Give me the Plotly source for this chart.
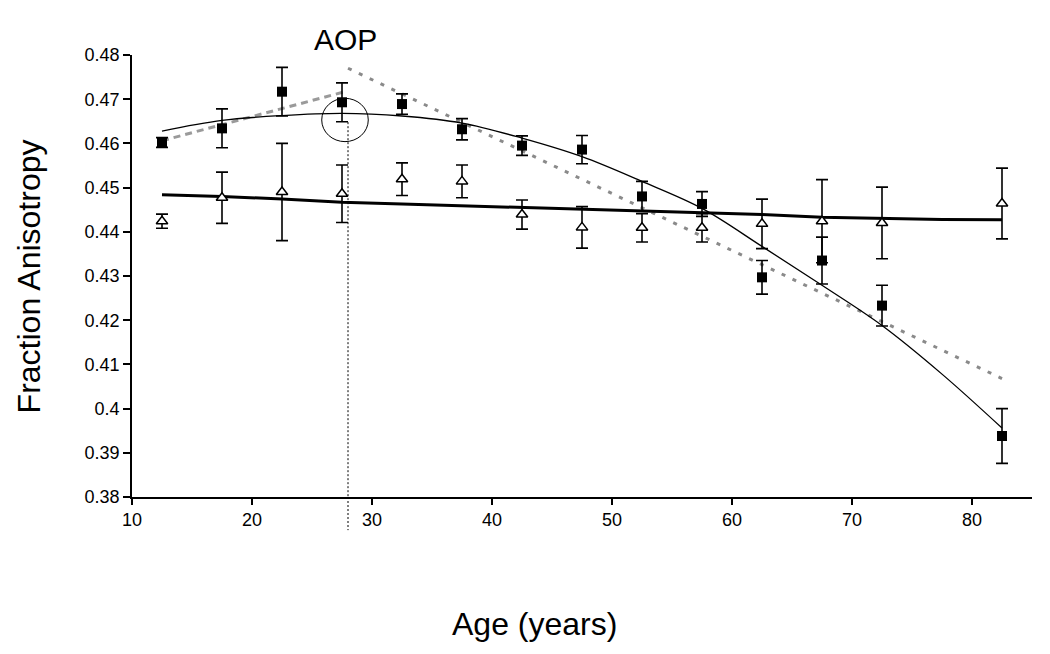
import plotly.graph_objects as go

# ---- data ----
age = [12.5, 17.5, 22.5, 27.5, 32.5, 37.5, 42.5, 47.5, 52.5, 57.5, 62.5, 67.5, 72.5, 82.5]

sq_fa = [0.4602, 0.4634, 0.4717, 0.4693, 0.4689, 0.4632, 0.4595, 0.4586, 0.4480, 0.4463, 0.4297, 0.4335, 0.4233, 0.3938]
sq_err = [0.0011, 0.0044, 0.0055, 0.0044, 0.0023, 0.0024, 0.0022, 0.0032, 0.0034, 0.0028, 0.0038, 0.0053, 0.0046, 0.0062]

tri_fa = [0.4424, 0.4477, 0.4490, 0.4486, 0.4519, 0.4514, 0.4439, 0.4410, 0.4409, 0.4409, 0.4418, 0.4424, 0.4420, 0.4464]
tri_err = [0.0016, 0.0058, 0.0110, 0.0065, 0.0037, 0.0037, 0.0033, 0.0047, 0.0032, 0.0032, 0.0056, 0.0094, 0.0081, 0.0080]

# fitted curves
fit_age = [12.5, 17.5, 22.5, 27.5, 32.5, 37.5, 42.5, 47.5, 52.5, 57.5, 62.5, 67.5, 72.5, 77.5, 82.5]
sq_fit = [0.4628, 0.4652, 0.4663, 0.4668, 0.4662, 0.4646, 0.4612, 0.4570, 0.4514, 0.4453, 0.4367, 0.4279, 0.4188, 0.4078, 0.3956]
tri_fit = [0.4484, 0.4480, 0.4474, 0.4467, 0.4463, 0.4459, 0.4454, 0.4450, 0.4446, 0.4443, 0.4439, 0.4433, 0.4430, 0.4428, 0.4427]

# two-segment (AOP) model
seg1_age = [12.5, 27.6]
seg1_fa = [0.4606, 0.4716]
seg2_age = [28.0, 82.5]
seg2_fa = [0.4770, 0.4068]

aop_age = 28.0
aop_fa = 0.4648
circle_age = [25.81, 29.69]
circle_fa = [0.4604, 0.4702]

x_ticks = [10, 20, 30, 40, 50, 60, 70, 80]
y_ticks = [0.38, 0.39, 0.40, 0.41, 0.42, 0.43, 0.44, 0.45, 0.46, 0.47, 0.48]
y_ticktext = ["0.38", "0.39", "0.4", "0.41", "0.42", "0.43", "0.44", "0.45", "0.46", "0.47", "0.48"]

FONT = "Arial, Liberation Sans, sans-serif"

fig = go.Figure()

fig.add_trace(go.Scatter(x=seg1_age, y=seg1_fa, mode="lines",
                         line=dict(color="#9a9a9a", width=3, dash="7px,5px"), showlegend=False))
fig.add_trace(go.Scatter(x=seg2_age, y=seg2_fa, mode="lines",
                         line=dict(color="#8a8a8a", width=3, dash="4px,8px"), showlegend=False))
fig.add_trace(go.Scatter(x=fit_age, y=tri_fit, mode="lines",
                         line=dict(color="black", width=3), showlegend=False))
fig.add_trace(go.Scatter(x=fit_age, y=sq_fit, mode="lines", line_shape="spline",
                         line=dict(color="black", width=1.3), showlegend=False))

fig.add_trace(go.Scatter(x=age, y=tri_fa, mode="markers",
                         marker=dict(symbol="triangle-up", size=10, color="white",
                                     line=dict(color="black", width=1.5)),
                         error_y=dict(type="data", array=tri_err, color="black", thickness=1.6, width=6),
                         showlegend=False))
fig.add_trace(go.Scatter(x=age, y=sq_fa, mode="markers",
                         marker=dict(symbol="square", size=10, color="black"),
                         error_y=dict(type="data", array=sq_err, color="black", thickness=1.6, width=6),
                         showlegend=False))

fig.add_shape(type="line", xref="x", yref="y", x0=aop_age, x1=aop_age, y0=aop_fa, y1=0.38,
              line=dict(color="black", width=1, dash="2px,2px"))
fig.add_shape(type="line", xref="x", yref="paper", x0=aop_age, x1=aop_age, y0=0, y1=-0.075,
              line=dict(color="black", width=1, dash="2px,2px"))
fig.add_shape(type="circle", xref="x", yref="y",
              x0=circle_age[0], x1=circle_age[1], y0=circle_fa[0], y1=circle_fa[1],
              line=dict(color="black", width=1))

fig.add_annotation(x=27.8, y=1.036, xref="x", yref="paper", text="AOP", showarrow=False,
                   font=dict(family=FONT, size=30, color="black"), xanchor="center", yanchor="middle")
fig.add_annotation(x=0.4467, y=-0.287, xref="paper", yref="paper", text="Age (years)", showarrow=False,
                   font=dict(family=FONT, size=32, color="black"), xanchor="center", yanchor="middle")
fig.add_annotation(x=-0.114, y=0.5, xref="paper", yref="paper", text="Fraction Anisotropy",
                   showarrow=False, textangle=-90,
                   font=dict(family=FONT, size=32, color="black"), xanchor="center", yanchor="middle")

fig.update_xaxes(range=[10, 85], tickvals=x_ticks, ticks="outside", ticklen=6, tickwidth=1.5,
                 tickcolor="black", showline=True, linecolor="black", linewidth=1.5,
                 showgrid=False, zeroline=False,
                 tickfont=dict(family=FONT, size=18, color="black"))
fig.update_yaxes(range=[0.38, 0.48], tickvals=y_ticks, ticktext=y_ticktext, ticks="outside",
                 ticklen=7, tickwidth=1.5, tickcolor="black", showline=True, linecolor="black",
                 linewidth=1.5, showgrid=False, zeroline=False,
                 tickfont=dict(family=FONT, size=18, color="black"))

fig.update_layout(width=1050, height=654, margin=dict(l=124, r=26, t=47, b=165),
                  plot_bgcolor="white", paper_bgcolor="white", showlegend=False)

fig.write_html("out.html")
